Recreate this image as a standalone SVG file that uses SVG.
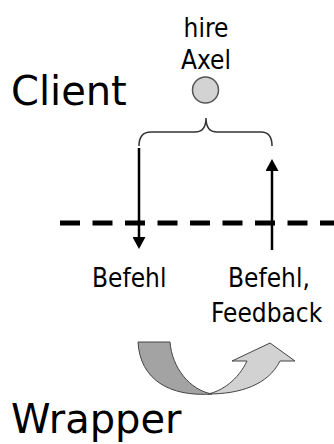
<svg xmlns="http://www.w3.org/2000/svg" width="334" height="444" viewBox="0 0 334 444">
<style>
.big{font-family:"DejaVu Sans",sans-serif;font-size:40px;fill:#000}
.lbl{font-family:"DejaVu Sans Condensed","DejaVu Sans",sans-serif;font-stretch:condensed;font-size:26px;fill:#000}
.ln{stroke:#000;stroke-width:2.5;fill:none}
</style>
<defs>
<marker id="ah" viewBox="0 0 12 13" refX="0" refY="6.5" markerWidth="12" markerHeight="13" markerUnits="userSpaceOnUse" orient="auto">
<path d="M0,0 L12,6.5 L0,13 Z" fill="#000"/>
</marker>
</defs>
<rect width="334" height="444" fill="#fff"/>
<g id="client"><text class="big" x="11" y="105">Client</text></g>
<g id="wrapper"><text class="big" x="11" y="433">Wrapper</text></g>
<g id="hire-axel">
<text class="lbl" x="206" y="37" text-anchor="middle">hire</text>
<text class="lbl" x="206" y="69" text-anchor="middle">Axel</text>
<circle cx="205.5" cy="90" r="13" fill="#d3d3d3" stroke="#555" stroke-width="1.5"/>
</g>
<g id="brace">
<path d="M139,146 Q139,132 151,132 L195,132 Q206,132 206,118 Q206,132 217,132 L261,132 Q272,132 272,146" fill="none" stroke="#333" stroke-width="1.5"/>
</g>
<g id="boundary">
<line x1="60" y1="223" x2="334" y2="223" stroke="#000" stroke-width="5" stroke-dasharray="20 12.5"/>
</g>
<g id="connectors">
<line class="ln" x1="139" y1="148" x2="139" y2="237" marker-end="url(#ah)"/>
<line class="ln" x1="272" y1="250" x2="272" y2="171" marker-end="url(#ah)"/>
</g>
<g id="befehl"><text class="lbl" x="92" y="287">Befehl</text></g>
<g id="befehl-feedback">
<text class="lbl" x="228" y="287">Befehl,</text>
<text class="lbl" x="211" y="322">Feedback</text>
</g>
<g id="cycle">
<path d="M208,394 C240,394 268,385 280,361 L295,361 L270,343 L232,361 L247,361 C238,380 222,391 208,394 Z" fill="#d2d2d2" stroke="#444" stroke-width="1"/>
<path d="M138,342 L170,342 C172,368 190,390 212,394 C170,397 140,380 138,342 Z" fill="#a3a3a3" stroke="#444" stroke-width="1"/>
</g>
</svg>
